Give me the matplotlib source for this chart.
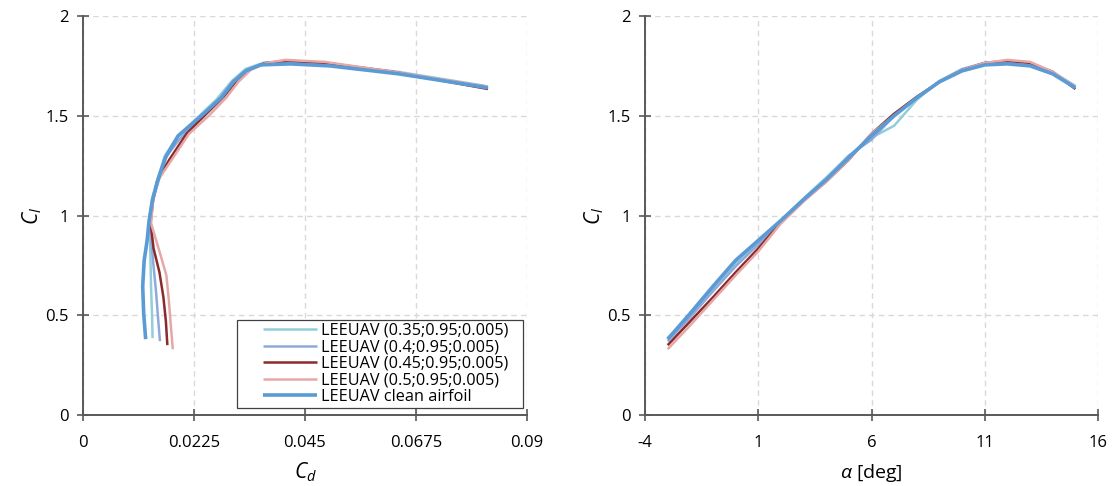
import matplotlib
matplotlib.use("Agg")
import matplotlib.pyplot as plt
from matplotlib.lines import Line2D
from matplotlib.legend_handler import HandlerLine2D

plt.rcParams['font.family'] = ['Open Sans', 'DejaVu Sans']
plt.rcParams['mathtext.fontset'] = 'custom'
plt.rcParams['mathtext.rm'] = 'Open Sans'
plt.rcParams['mathtext.it'] = 'Open Sans:italic'

alpha = [-3, -2, -1, 0, 1, 2, 3, 4, 5, 6, 7, 8, 9, 10, 11, 12, 13, 14, 15]

labels = ["LEEUAV (0.35;0.95;0.005)", "LEEUAV (0.4;0.95;0.005)",
          "LEEUAV (0.45;0.95;0.005)", "LEEUAV (0.5;0.95;0.005)",
          "LEEUAV clean airfoil"]

cl_035 = [0.385, 0.50, 0.635, 0.76, 0.865, 0.975, 1.085, 1.19, 1.30, 1.39, 1.45, 1.58, 1.675, 1.735, 1.765, 1.77, 1.76, 1.72, 1.65]
cd_035 = [0.0141, 0.0140, 0.0138, 0.0137, 0.0136, 0.0134, 0.0140, 0.0152, 0.0166, 0.0190, 0.0215, 0.0270, 0.0302, 0.0330, 0.0365, 0.0420, 0.0500, 0.0640, 0.0815]

cl_040 = [0.37, 0.49, 0.62, 0.745, 0.855, 0.97, 1.08, 1.18, 1.30, 1.38, 1.50, 1.59, 1.67, 1.725, 1.76, 1.765, 1.755, 1.715, 1.645]
cd_040 = [0.0156, 0.0152, 0.0148, 0.0143, 0.0139, 0.0136, 0.0142, 0.0154, 0.0170, 0.0195, 0.0240, 0.0278, 0.0303, 0.0330, 0.0365, 0.0420, 0.0500, 0.0640, 0.0820]

cl_045 = [0.35, 0.47, 0.59, 0.715, 0.835, 0.965, 1.075, 1.17, 1.28, 1.41, 1.51, 1.595, 1.67, 1.73, 1.765, 1.775, 1.765, 1.72, 1.634]
cd_045 = [0.0171, 0.0168, 0.0163, 0.0155, 0.0143, 0.0137, 0.0142, 0.0150, 0.0175, 0.0210, 0.0250, 0.0285, 0.0310, 0.0335, 0.0370, 0.0415, 0.0490, 0.0630, 0.0821]

cl_050 = [0.33, 0.45, 0.575, 0.70, 0.82, 0.96, 1.07, 1.17, 1.28, 1.41, 1.50, 1.59, 1.67, 1.73, 1.765, 1.78, 1.77, 1.72, 1.645]
cd_050 = [0.0182, 0.0178, 0.0174, 0.0169, 0.0155, 0.0138, 0.0142, 0.0150, 0.0180, 0.0215, 0.0255, 0.0290, 0.0315, 0.0340, 0.0372, 0.0410, 0.0490, 0.0630, 0.0821]

cl_clean = [0.38, 0.51, 0.645, 0.775, 0.875, 0.975, 1.08, 1.18, 1.29, 1.40, 1.50, 1.59, 1.67, 1.725, 1.755, 1.76, 1.75, 1.71, 1.64]
cd_clean = [0.0127, 0.0123, 0.0121, 0.0124, 0.0130, 0.0134, 0.0141, 0.0152, 0.0167, 0.0193, 0.0240, 0.0280, 0.0305, 0.0330, 0.0360, 0.0420, 0.0500, 0.0640, 0.0821]

cl_series = [cl_035, cl_040, cl_045, cl_050, cl_clean]
cd_series = [cd_035, cd_040, cd_045, cd_050, cd_clean]
colors = ["#92cddc", "#8eaadb", "#8b2a2a", "#e6a8a6", "#5b9bd5"]
widths = [1.8, 1.8, 1.8, 1.8, 2.6]

x1_ticks = [0, 0.0225, 0.045, 0.0675, 0.09]
x1_labels = ["0", "0.0225", "0.045", "0.0675", "0.09"]
x2_ticks = [-4, 1, 6, 11, 16]
x2_labels = ["-4", "1", "6", "11", "16"]
y_ticks = [0, 0.5, 1, 1.5, 2]
y_labels = ["0", "0.5", "1", "1.5", "2"]


class RightLine(HandlerLine2D):
    """Draw the legend line in the right part of the handle box."""
    def create_artists(self, legend, orig_handle, xdescent, ydescent,
                       width, height, fontsize, trans):
        shift = 0.30 * width
        return super().create_artists(legend, orig_handle, xdescent - shift,
                                      ydescent, width - shift, height,
                                      fontsize, trans)


fig = plt.figure(figsize=(11.16, 4.86), dpi=100)
ax1 = fig.add_axes([83/1116, 1-415/486, (527-83)/1116, (415-16)/486])
ax2 = fig.add_axes([645/1116, 1-415/486, (1098-645)/1116, (415-16)/486])

spine_c = "#595959"
for ax in (ax1, ax2):
    for s in ("top", "right"):
        ax.spines[s].set_visible(False)
    for s in ("left", "bottom"):
        ax.spines[s].set_color(spine_c)
        ax.spines[s].set_linewidth(1.4)
    ax.tick_params(direction="inout", length=9, width=1.2, color=spine_c,
                   labelsize=12, labelcolor="black")
    ax.tick_params(axis="x", pad=10)
    ax.tick_params(axis="y", pad=6)
    ax.grid(True, color="#d9d9d9", linestyle=(0, (4, 3)), linewidth=1.0)
    ax.set_axisbelow(True)
    ax.set_ylim(0, 2)
    ax.set_yticks(y_ticks)
    ax.set_yticklabels(y_labels)
    ax.set_ylabel(r"$C_l$", fontsize=15, labelpad=1)

for cl, cd, c, w, lab in zip(cl_series, cd_series, colors, widths, labels):
    ax1.plot(cd, cl, color=c, lw=w, label=lab, solid_capstyle="butt")
    ax2.plot(alpha, cl, color=c, lw=w, label=lab, solid_capstyle="butt")

ax1.set_xlim(0, 0.09)
ax1.set_xticks(x1_ticks)
ax1.set_xticklabels(x1_labels)
ax1.set_xlabel(r"$C_d$", fontsize=15, labelpad=7)

ax2.set_xlim(-4, 16)
ax2.set_xticks(x2_ticks)
ax2.set_xticklabels(x2_labels)
ax2.set_xlabel(r"$\alpha$ [deg]", fontsize=14, labelpad=8)

leg = ax1.legend(loc="lower left", bbox_to_anchor=(0.3468, 0.0175, 0.644, 0.2),
                 mode="expand", fontsize=11.7,
                 frameon=True, fancybox=False, framealpha=1, edgecolor="#404040",
                 handlelength=4.72, borderpad=0.2, labelspacing=0.03,
                 handletextpad=0.25, borderaxespad=0,
                 handler_map={Line2D: RightLine()})
leg.get_frame().set_linewidth(0.9)

fig.savefig("out.png", dpi=100)
